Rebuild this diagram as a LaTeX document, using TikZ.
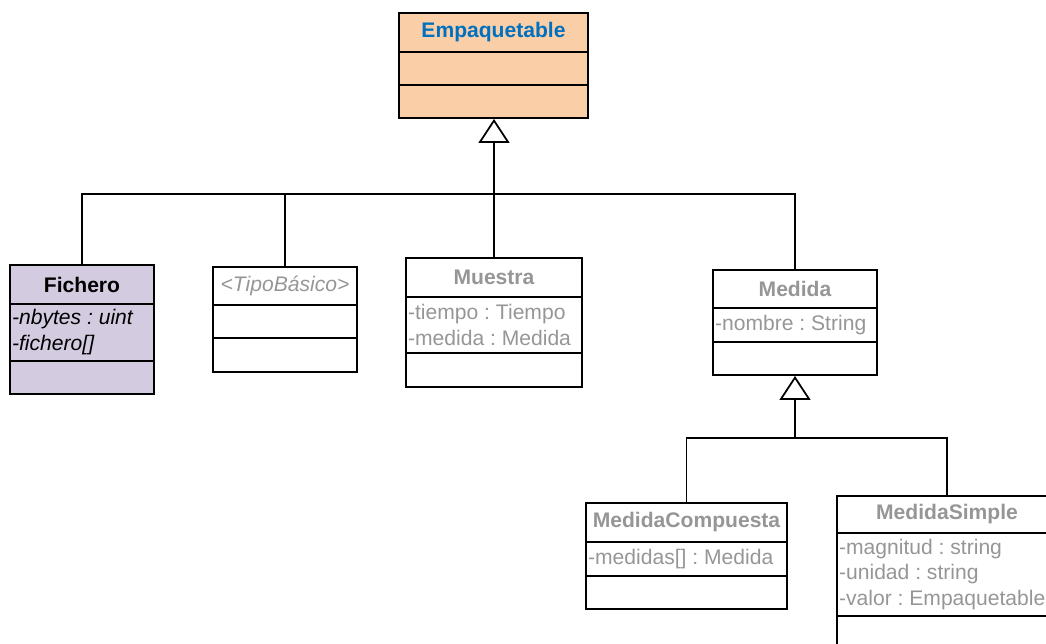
\documentclass[tikz,border=0pt,12pt]{standalone}
\usepackage{fontspec}
\setmainfont{Liberation Sans}
\usetikzlibrary{arrows.meta,fit}

\definecolor{peach}{RGB}{250,206,167}
\definecolor{lavender}{RGB}{211,203,224}
\definecolor{titleblue}{RGB}{0,112,192}
\definecolor{softgray}{RGB}{150,150,150}

\tikzset{
	classbox/.style = {draw, line width=1.1pt, inner sep=0pt},
	split/.style = {line width=1.1pt},
	classname/.style = {font=\bfseries, text=softgray, inner sep=1pt},
	attrs/.style = {anchor=west, align=left, inner sep=1pt, text=softgray},
	link/.style = {line width=0.6pt},
	inherits/.style = {line width=1pt, -{Triangle[open, length=0.48cm, width=0.62cm]}},
}

\begin{document}
\frenchspacing
\begin{tikzpicture}[x=0.02cm, y=-0.02cm]
	\useasboundingbox (0,0) rectangle (1046,644);
	\clip (0,0) rectangle (1046,644);

	% interface at the top
	\node [classbox, fill=peach, fit={(399,13) (588,118)}] (empaquetable) {};
	\draw [split] (empaquetable.west |- 0,52) -- (empaquetable.east |- 0,52);
	\draw [split] (empaquetable.west |- 0,85) -- (empaquetable.east |- 0,85);
	\node [classname, text=titleblue] (empaquetablename) at (493.5,32.5) {Empaquetable};

	% first row of classes
	\node [classbox, fill=lavender, fit={(10,265) (154,394)}] (fichero) {};
	\draw [split] (fichero.west |- 0,304) -- (fichero.east |- 0,304);
	\draw [split] (fichero.west |- 0,361) -- (fichero.east |- 0,361);
	\node [classname, text=black] (ficheroname) at (82,284.5) {Fichero};
	\node [attrs, text=black, font=\itshape] (ficheroattrs) at (10,332) {-nbytes : uint\\-fichero[]};

	\node [classbox, fit={(213,267) (357,372)}] (tipobasico) {};
	\draw [split] (tipobasico.west |- 0,305) -- (tipobasico.east |- 0,305);
	\draw [split] (tipobasico.west |- 0,338) -- (tipobasico.east |- 0,338);
	\node [classname, font=\itshape] (tipobasiconame) at (285,286) {<TipoBásico>};

	\node [classbox, fit={(406,258) (582,387)}] (muestra) {};
	\draw [split] (muestra.west |- 0,297) -- (muestra.east |- 0,297);
	\draw [split] (muestra.west |- 0,353) -- (muestra.east |- 0,353);
	\node [classname] (muestraname) at (494,277.5) {Muestra};
	\node [attrs] (muestraattrs) at (406,325) {-tiempo : Tiempo\\-medida : Medida};

	\node [classbox, fit={(713,270) (877,375)}] (medida) {};
	\draw [split] (medida.west |- 0,308) -- (medida.east |- 0,308);
	\draw [split] (medida.west |- 0,342) -- (medida.east |- 0,342);
	\node [classname] (medidaname) at (795,289) {Medida};
	\node [attrs] (medidaattrs) at (713,325) {-nombre : String};

	% subclasses of Medida
	\node [classbox, fit={(586,503) (787,609)}] (compuesta) {};
	\draw [split] (compuesta.west |- 0,542) -- (compuesta.east |- 0,542);
	\draw [split] (compuesta.west |- 0,576) -- (compuesta.east |- 0,576);
	\node [classname] (compuestaname) at (686.5,522.5) {MedidaCompuesta};
	\node [attrs] (compuestaattrs) at (586,559) {-medidas[] : Medida};

	\node [classbox, fit={(837,496) (1057,660)}] (simple) {};
	\draw [split] (simple.west |- 0,533) -- (simple.east |- 0,533);
	\draw [split] (simple.west |- 0,616) -- (simple.east |- 0,616);
	\node [classname] (simplename) at (947,514.5) {MedidaSimple};
	\node [attrs] (simpleattrs) at (837,574.5) {-magnitud : string\\-unidad : string\\-valor : Empaquetable};

	% generalisations
	\coordinate (hubtop) at (494,194);
	\draw [inherits] (hubtop) -- (hubtop |- empaquetable.south);
	\draw [link] (fichero.north) |- (hubtop);
	\draw [link] (tipobasico.north) |- (hubtop);
	\draw [link] (muestra.north) -- (muestra.north |- hubtop);
	\draw [link] (medida.north) |- (hubtop);

	\coordinate (hubmedida) at (795,438);
	\draw [inherits] (hubmedida) -- (medida.south);
	\draw [link] (compuesta.north) |- (hubmedida);
	\draw [link] (simple.north) |- (hubmedida);
\end{tikzpicture}
\end{document}
